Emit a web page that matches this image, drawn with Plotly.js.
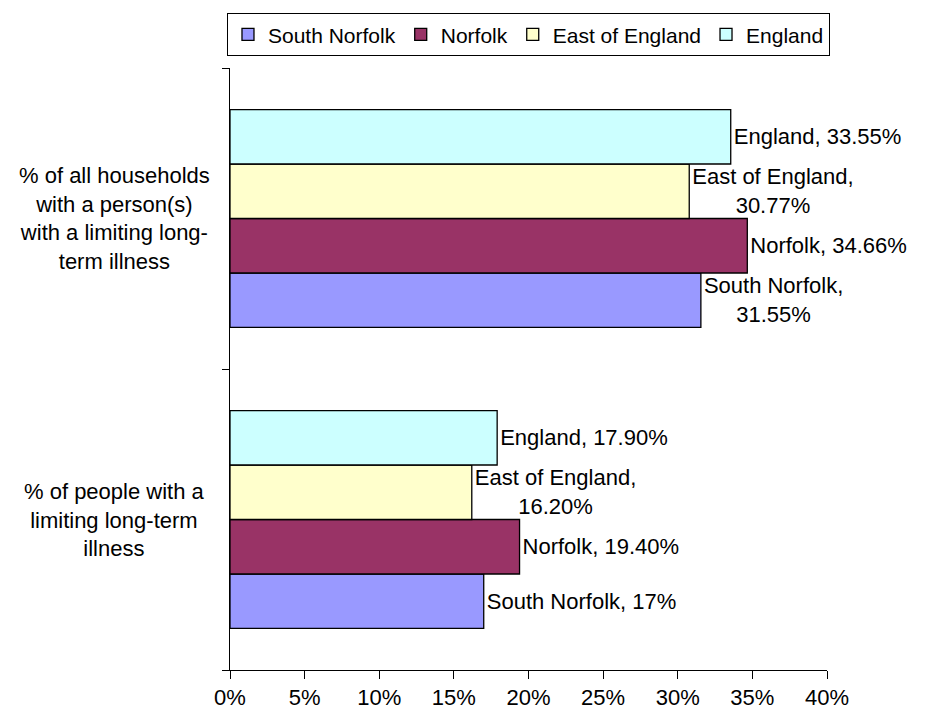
<!DOCTYPE html>
<html>
  <head>
    <title>Limiting long-term illness - South Norfolk</title>
    <meta http-equiv="content-type" content="text/html; charset=utf-8" />
    <style>
      body {
        margin: 0;
        background-color: #FFFFFF;
      }
      #chart {
        width: 926px;
        height: 717px;
      }
    </style>
    <script src="https://cdn.plot.ly/plotly-3.0.1.min.js"></script>
  </head>
  <body>
    <div id="chart"></div>
    <script>
      // categories, bottom to top as Plotly draws them
      var categories = ['people', 'households'];
      var categoryLabels = [
        '% of people with a<br>limiting long-term<br>illness',
        '% of all households<br>with a person(s)<br>with a limiting long-<br>term illness'
      ];

      var seriesNames = ['South Norfolk', 'Norfolk', 'East of England', 'England'];
      var southNorfolk = [17, 31.55];
      var norfolk = [19.40, 34.66];
      var eastOfEngland = [16.20, 30.77];
      var england = [17.90, 33.55];

      // data labels as printed on the chart
      var southNorfolkText = ['South Norfolk, 17%', 'South Norfolk,<br>31.55%'];
      var norfolkText = ['Norfolk, 19.40%', 'Norfolk, 34.66%'];
      var eastOfEnglandText = ['East of England,<br>16.20%', 'East of England,<br>30.77%'];
      var englandText = ['England, 17.90%', 'England, 33.55%'];

      var xTicks = [0, 5, 10, 15, 20, 25, 30, 35, 40];

      var colors = ['#9999FF', '#993366', '#FFFFCC', '#CCFFFF'];
      var values = [southNorfolk, norfolk, eastOfEngland, england];
      var texts = [southNorfolkText, norfolkText, eastOfEnglandText, englandText];

      var font = 'Liberation Sans, Arial, sans-serif';

      var sets = [];
      for (var i = 0; i < seriesNames.length; i++) {
        sets.push({
          name: seriesNames[i],
          type: 'bar',
          orientation: 'h',
          x: values[i],
          y: categories,
          text: texts[i],
          textposition: 'outside',
          constraintext: 'none',
          cliponaxis: false,
          textfont: {family: font, size: 22, color: '#000000'},
          hoverinfo: 'none',
          marker: {
            color: colors[i],
            line: {color: '#000000', width: 1.3}
          }
        });
      }

      var annotations = [];
      for (var j = 0; j < categories.length; j++) {
        annotations.push({
          xref: 'paper',
          yref: 'y',
          x: -0.193,
          y: categories[j],
          xanchor: 'center',
          yanchor: 'middle',
          align: 'center',
          showarrow: false,
          text: categoryLabels[j],
          font: {family: font, size: 22, color: '#000000'}
        });
      }

      var options = {
        width: 926,
        height: 717,
        margin: {l: 230, r: 99, t: 68, b: 47},
        paper_bgcolor: '#FFFFFF',
        plot_bgcolor: '#FFFFFF',
        font: {family: font, size: 22, color: '#000000'},
        barmode: 'group',
        bargap: 0.276,
        bargroupgap: 0,
        showlegend: true,
        legend: {
          orientation: 'h',
          traceorder: 'normal',
          // anchored right of the plot so it may span one row
          x: 1.005,
          xanchor: 'right',
          y: 1.091,
          yanchor: 'top',
          bgcolor: '#FFFFFF',
          bordercolor: '#000000',
          borderwidth: 1,
          itemwidth: 30,
          font: {family: font, size: 21, color: '#000000'}
        },
        xaxis: {
          range: [0, 40],
          tickvals: xTicks,
          ticktext: xTicks.map(function (v) { return v + '%'; }),
          ticks: 'outside',
          ticklen: 8,
          tickcolor: '#000000',
          showline: true,
          linecolor: '#000000',
          linewidth: 1,
          showgrid: false,
          zeroline: false,
          fixedrange: true
        },
        yaxis: {
          type: 'category',
          showticklabels: false,
          tickson: 'boundaries',
          ticks: 'outside',
          ticklen: 7,
          tickcolor: '#000000',
          showline: true,
          linecolor: '#000000',
          linewidth: 1,
          showgrid: false,
          zeroline: false,
          fixedrange: true
        },
        annotations: annotations
      };

      Plotly.newPlot('chart', sets, options, {displayModeBar: false, staticPlot: true});
    </script>
  </body>
</html>
